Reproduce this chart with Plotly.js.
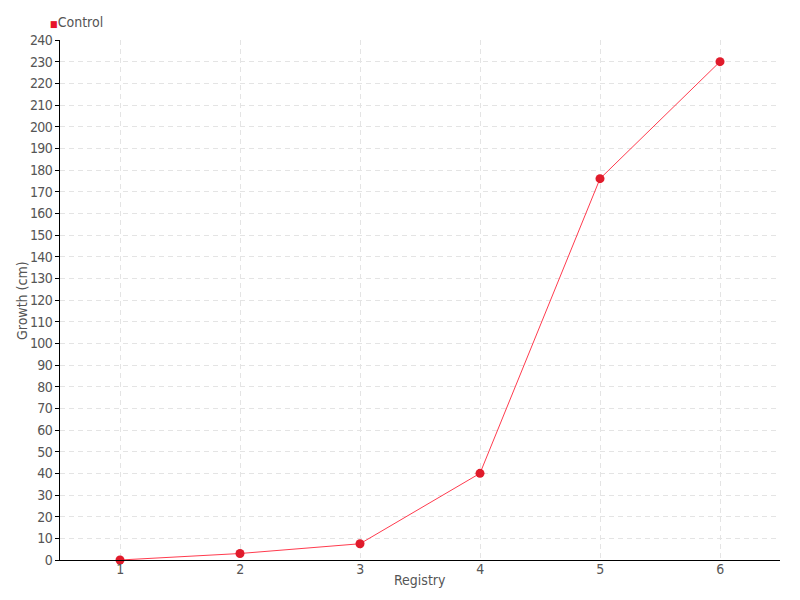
<!DOCTYPE html>
<html><head><meta charset="utf-8">
<script src="https://cdn.plot.ly/plotly-3.0.1.min.js"></script>
<style>html,body{margin:0;padding:0;background:#fff}#chart{width:800px;height:600px}#chart .ytick text,#chart .xtick text{letter-spacing:-0.6px}</style>
</head><body><div id="chart"></div>
<script>
const registry = [1, 2, 3, 4, 5, 6];
const controlGrowth = [0, 3, 7.5, 40, 176, 230];
const seriesName = 'Control';
const xTitle = 'Registry';
const yTitle = 'Growth (cm)';
const yTicks = [0,10,20,30,40,50,60,70,80,90,100,110,120,130,140,150,160,170,180,190,200,210,220,230,240];

const FONT = '"DejaVu Sans Condensed", Lato, sans-serif';
const TXT = {family: FONT, size: 14, color: '#555'};

const traces = [{
  x: registry, y: controlGrowth, name: seriesName, type: 'scatter', mode: 'lines+markers',
  line: {color: '#ff3b4e', width: 1},
  marker: {color: '#e01b2b', size: 9},
  showlegend: false, cliponaxis: false
}];

const layout = {
  width: 800, height: 600,
  margin: {l: 60, r: 20, t: 40, b: 40},
  paper_bgcolor: '#fff', plot_bgcolor: '#fff',
  font: TXT,
  showlegend: false,
  xaxis: {
    range: [0.5, 6.5], tickvals: registry, ticktext: registry.map(String),
    showline: true, linecolor: '#000', linewidth: 1,
    ticks: '', ticklabelstandoff: -4,
    showgrid: true, gridcolor: '#e4e4e4', griddash: '5px,4px', zeroline: false,
    tickfont: TXT
  },
  yaxis: {
    range: [0, 240], tickvals: yTicks, ticktext: yTicks.map(String),
    showline: true, linecolor: '#000', linewidth: 1,
    ticks: 'outside', ticklen: 4, tickcolor: '#000',
    showgrid: true, gridcolor: '#e4e4e4', griddash: '5px,4px', zeroline: false,
    tickfont: TXT
  },
  annotations: [{
    xref: 'paper', yref: 'paper', x: -0.0167, y: 1.0346, xanchor: 'left', yanchor: 'middle',
    showarrow: false, align: 'left',
    text: '<span style="color:#e8142a;font-size:9px">■</span>' + seriesName,
    font: TXT
  }, {
    xref: 'paper', yref: 'paper', x: 0.5, y: -0.0385, xanchor: 'center', yanchor: 'middle',
    showarrow: false, text: xTitle, font: TXT
  }, {
    xref: 'paper', yref: 'paper', x: -0.0528, y: 0.5, xanchor: 'center', yanchor: 'middle',
    showarrow: false, text: yTitle, textangle: -90, font: TXT
  }]
};

Plotly.newPlot('chart', traces, layout, {displayModeBar: false, staticPlot: true});
</script></body></html>
